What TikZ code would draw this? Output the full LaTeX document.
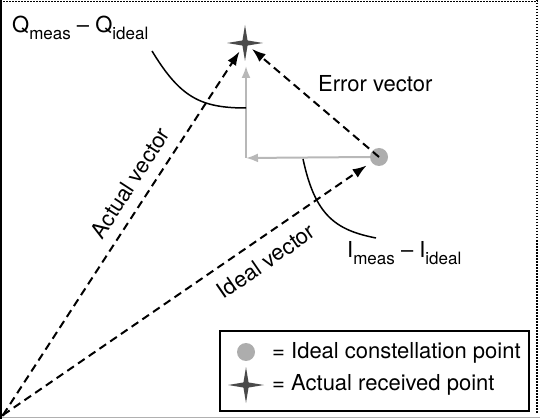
\documentclass[tikz,border=0pt]{standalone}
\usepackage{fontspec}
\setmainfont{TeX Gyre Heros}
\usetikzlibrary{arrows.meta,shapes.geometric}
\definecolor{ptgray}{HTML}{ADADAD}
\definecolor{stargray}{HTML}{4A4A4A}
\definecolor{axgray}{HTML}{B8B8B8}
\definecolor{framegray}{HTML}{B0B0B0}
\newcommand\mysub[1]{\raisebox{-0.28em}{\fontsize{17}{18}\selectfont #1}}
\begin{document}
\begin{tikzpicture}[x=1pt,y=-1pt,
  lbl/.style={font=\fontsize{22}{24}\selectfont, inner sep=0pt},
  vec/.style={draw=black, line width=2pt, dash pattern=on 8pt off 5pt, -{Latex[length=14pt,width=10pt]}},
  comp/.style={draw=axgray, line width=2pt, -{Latex[length=12pt,width=9pt]}},
  bracket/.style={draw=black, line width=1.5pt},
  idealpt/.style={circle, fill=ptgray, minimum size=18pt, inner sep=0pt},
  actpt/.style={star, star points=4, star point ratio=5, fill=stargray, minimum size=36pt, inner sep=0pt},
  dotline/.style={draw=black, line width=1.3pt, dash pattern=on 1.5pt off 1.5pt},
]
\useasboundingbox (0,0) rectangle (540,419);
% frame
\draw[dotline] (0,1.5) -- (538,1.5);
\draw[dotline] (537,0) -- (537,413);
\draw[framegray, line width=1.5pt] (0,417.5) -- (540,417.5);
\draw[black, line width=1.3pt] (1,0) -- (1,419);

% points
\coordinate (O) at (3,415);
\coordinate (corner) at (246,158);
\node[idealpt] (ip) at (379,157) {};

% component arrows
\draw[comp] (ip.west) -- (corner);
\draw[comp] (corner) -- ++(0,-92) coordinate (ctop);

\node[actpt] (ap) at (245,43) {};

% vectors
\draw[vec, shorten >=10pt] (O) -- (ap.center);
\draw[vec, shorten >=15pt] (O) -- (ip.center);
\draw[vec, shorten >=9pt] (ip.center) -- (ap.center);
\fill (O) circle (1.5pt);

% brackets
\coordinate (qa) at (152,51);
\coordinate (qb) at (246,108);
\draw[bracket] (qa) .. controls (180,97) and (200,108) .. (qb);
\coordinate (ia) at (303,159);
\coordinate (ib) at (376,238);
\draw[bracket] (ia) .. controls (315,215) and (335,230) .. (ib);

% labels
\node[lbl, anchor=base west] (ql) at (12,33) {Q\mysub{meas} – Q\mysub{ideal}};
\node[lbl, anchor=base west] (il) at (347,258) {I\mysub{meas} – I\mysub{ideal}};
\node[lbl, anchor=base west] (el) at (318,92) {Error vector};
\node[lbl, rotate=57] (al) at (130,183) {Actual vector};
\node[lbl, rotate=34.6] (dl) at (266,261) {Ideal vector};

% legend
\node[draw=black, line width=1.5pt, minimum width=309pt, minimum height=80pt, inner sep=0pt] (legend) at (374.5,371) {};
\node[idealpt] (lip) at (246,352) {};
\node[actpt] (lap) at (246,385) {};
\node[lbl, anchor=base west] (lt1) at (272,358) {= Ideal constellation point};
\node[lbl, anchor=base west] (lt2) at (272,390) {= Actual received point};
\end{tikzpicture}
\end{document}
